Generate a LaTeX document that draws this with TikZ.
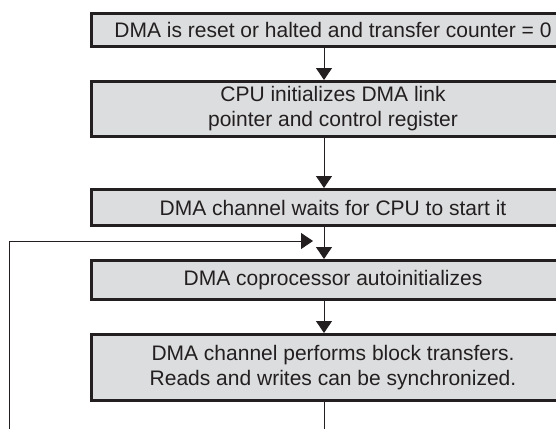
\documentclass[tikz,border=0pt]{standalone}
\usepackage{fontspec}
\setmainfont{Liberation Sans}
\usetikzlibrary{arrows.meta}
\definecolor{boxfill}{HTML}{DCDDDE}
\definecolor{boxline}{HTML}{231F20}
\tikzset{
  stepbox/.style={draw=boxline, fill=boxfill, line width=3pt, minimum width=483pt,
    align=center, inner sep=0pt, font=\fontsize{21}{25}\selectfont, text=boxline},
  conn/.style={draw=boxline, line width=1pt},
  arr/.style={conn, -{Triangle[length=12pt,width=16pt]}}
}
\begin{document}
\begin{tikzpicture}[x=1pt,y=1pt]
\useasboundingbox (0,0) rectangle (556,-428);
\begin{scope}
\clip (0,0) rectangle (556,-428);
\node[stepbox, minimum height=33pt] (b1) at (333,-30) {DMA is reset or halted and transfer counter = 0};
\node[stepbox, minimum height=55pt] (b2) at (333,-109) {CPU initializes DMA link\\pointer and control register};
\node[stepbox, minimum height=36pt] (b3) at (333,-207.5) {DMA channel waits for CPU to start it};
\node[stepbox, minimum height=39pt] (b4) at (333,-280) {DMA coprocessor autoinitializes};
\node[stepbox, minimum height=66pt] (b5) at (333,-367.5) {DMA channel performs block transfers.\\Reads and writes can be synchronized.};
\coordinate (bend) at (9,-241);
\coordinate (fbend) at (9,-440);
\coordinate (ftip) at (313,-241);
\coordinate (down) at (324,-440);
\path[arr] (b1.south -| down) -- (b2.north -| down);
\path[arr] (b2.south -| down) -- (b3.north -| down);
\path[arr] (b3.south -| down) -- (b4.north -| down);
\path[arr] (b4.south -| down) -- (b5.north -| down);
\path[conn] (b5.south -| down) -- (down);
\path[arr] (fbend) -- (bend) -- (ftip);
\end{scope}
\end{tikzpicture}
\end{document}
